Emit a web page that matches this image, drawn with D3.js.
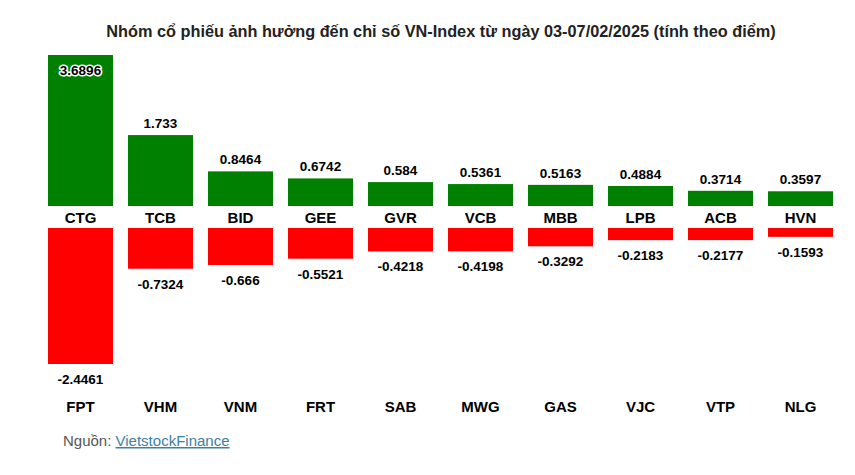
<!DOCTYPE html>
<html><head><meta charset="utf-8">
<script src="https://cdn.jsdelivr.net/npm/d3@7"></script>
<style>body{margin:0;background:#fff}</style>
</head><body>
<script>
const posCategories = ["CTG","TCB","BID","GEE","GVR","VCB","MBB","LPB","ACB","HVN"];
const posValues = [3.6896,1.733,0.8464,0.6742,0.584,0.5361,0.5163,0.4884,0.3714,0.3597];
const negCategories = ["FPT","VHM","VNM","FRT","SAB","MWG","GAS","VJC","VTP","NLG"];
const negValues = [-2.4461,-0.7324,-0.666,-0.5521,-0.4218,-0.4198,-0.3292,-0.2183,-0.2177,-0.1593];
const title = "Nhóm cổ phiếu ảnh hưởng đến chỉ số VN-Index từ ngày 03-07/02/2025 (tính theo điểm)";

const W = 855, H = 475;
const svg = d3.select("body").append("svg").attr("width", W).attr("height", H)
  .style("font-family", "Arial, 'Liberation Sans', sans-serif");
svg.append("rect").attr("width", W).attr("height", H).attr("fill", "#fff");

svg.append("text").attr("x", 441).attr("y", 37).attr("text-anchor", "middle")
  .attr("font-size", 16.3).attr("font-weight", "bold").attr("fill", "#222").text(title);

const x = d3.scaleBand().domain(d3.range(10)).range([40.5, 840.5]).paddingInner(0.1875).paddingOuter(0.09375);
const yPos = d3.scaleLinear().domain([0, d3.max(posValues)]).range([206, 55]);
const yNeg = d3.scaleLinear().domain([0, -d3.min(negValues)]).range([228, 364]);

const pos = svg.append("g");
pos.selectAll("rect").data(posValues).join("rect")
  .attr("x", (d,i) => x(i)).attr("width", x.bandwidth())
  .attr("y", d => yPos(d)).attr("height", d => yPos(0) - yPos(d)).attr("fill", "#008000");
pos.selectAll("text.v").data(posValues).join("text").attr("class","v")
  .attr("x", (d,i) => x(i) + x.bandwidth()/2)
  .attr("y", d => yPos(d) - 20 < 45 ? yPos(d) + 20 : yPos(d) - 7)
  .attr("text-anchor", "middle").attr("font-size", 13.5).attr("font-weight", "bold")
  .attr("fill", "#000")
  .attr("stroke", d => yPos(d) - 20 < 45 ? "#fff" : "none").attr("stroke-width", 3)
  .attr("paint-order", "stroke").attr("stroke-linejoin", "round")
  .text(d => String(d));
pos.selectAll("text.c").data(posCategories).join("text").attr("class","c")
  .attr("x", (d,i) => x(i) + x.bandwidth()/2).attr("y", 223)
  .attr("text-anchor", "middle").attr("font-size", 15).attr("font-weight", "bold").attr("fill", "#000")
  .text(d => d);

const neg = svg.append("g");
neg.selectAll("rect").data(negValues).join("rect")
  .attr("x", (d,i) => x(i)).attr("width", x.bandwidth())
  .attr("y", yNeg(0)).attr("height", d => yNeg(-d) - yNeg(0)).attr("fill", "#ff0000");
neg.selectAll("text.v").data(negValues).join("text").attr("class","v")
  .attr("x", (d,i) => x(i) + x.bandwidth()/2).attr("y", d => yNeg(-d) + 20)
  .attr("text-anchor", "middle").attr("font-size", 13.5).attr("font-weight", "bold").attr("fill", "#000")
  .text(d => String(d));
neg.selectAll("text.c").data(negCategories).join("text").attr("class","c")
  .attr("x", (d,i) => x(i) + x.bandwidth()/2).attr("y", 412)
  .attr("text-anchor", "middle").attr("font-size", 15).attr("font-weight", "bold").attr("fill", "#000")
  .text(d => d);

const src = svg.append("text").attr("x", 63).attr("y", 446).attr("font-size", 15);
src.append("tspan").attr("fill", "#555").text("Nguồn: ");
src.append("tspan").attr("fill", "#3d7fa6").attr("text-decoration", "underline").text("VietstockFinance");
</script>
</body></html>
